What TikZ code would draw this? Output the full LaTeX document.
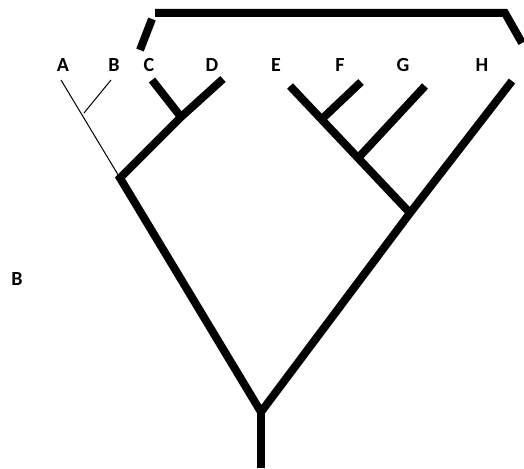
\documentclass[tikz,border=0pt]{standalone}
\usepackage{fontspec}
\setmainfont{Carlito}
\usetikzlibrary{positioning}
\tikzset{
  branch/.style={line width=8pt, line cap=butt, line join=miter},
  thinbranch/.style={line width=1pt},
  taxon/.style={font=\fontsize{20}{24}\selectfont\bfseries, inner sep=0pt, anchor=base}
}
\begin{document}
\begin{tikzpicture}[x=1pt,y=-1pt]
\useasboundingbox (0,0) rectangle (524,468);
% labels
\node[taxon] (lA) at (63,72) {A};
\node[taxon] (lB) at (114,72) {B};
\node[taxon] (lC) at (149,72) {C};
\node[taxon] (lD) at (212,72) {D};
\node[taxon] (lE) at (276,72) {E};
\node[taxon] (lF) at (340,72) {F};
\node[taxon] (lG) at (403,72) {G};
\node[taxon] (lH) at (482,72) {H};
\node[taxon] (panel) at (17,285) {B};
% tips
\coordinate (tA) at (61,80);
\coordinate (tB) at (111,80);
\coordinate (tC) at (152,80);
\coordinate (tD) at (223,79);
\coordinate (tE) at (290,86);
\coordinate (tF) at (361,82);
\coordinate (tG) at (425,86);
\coordinate (tH) at (512,81);
% internal nodes
\coordinate (nAB) at (84,113);
\coordinate (nCD) at (181,117);
\coordinate (nL) at (120,178);
\coordinate (nEF) at (323,118);
\coordinate (nEG) at (360,156);
\coordinate (nR) at (410,213);
\coordinate (root) at (261,412);
\coordinate (base) at (261,468);
% thin part
\draw[thinbranch] (tA) -- (nL);
\draw[thinbranch] (tB) -- (nAB);
% thick part
\draw[branch] (tC) -- (nCD);
\draw[branch] (tD) -- (nCD) -- (nL) -- (root) -- (nR) -- (tH);
\draw[branch] (tE) -- (nR);
\draw[branch] (tF) -- (nEF);
\draw[branch] (tG) -- (nEG);
\draw[branch] (root) -- (base);
% bracket
\coordinate (k1) at (140,50);
\coordinate (k2) at (152,19);
\coordinate (k3) at (155,13);
\coordinate (k4) at (505,13);
\coordinate (k5) at (522,43);
\draw[branch] (k1) -- (k2);
\draw[branch] (k3) -- (k4) -- (k5);
\end{tikzpicture}
\end{document}
